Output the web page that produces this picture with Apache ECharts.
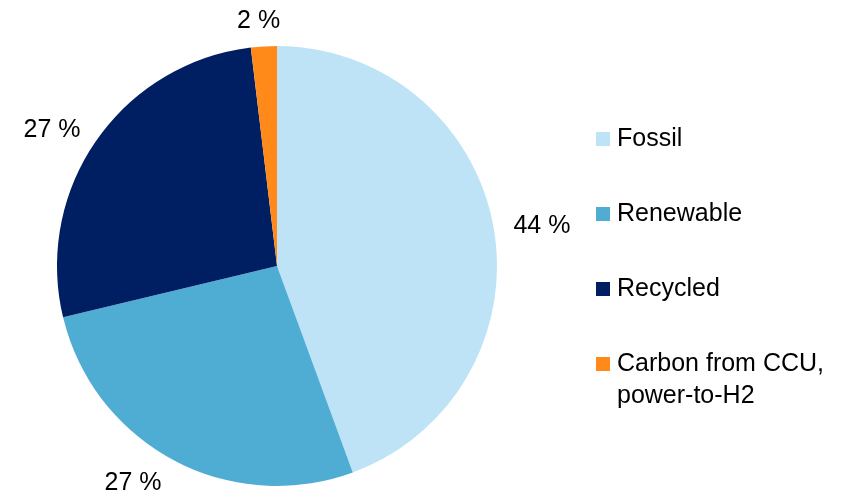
<!DOCTYPE html>
<html>
<head>
<meta charset="utf-8">
<script src="https://cdn.jsdelivr.net/npm/echarts@6/dist/echarts.min.js"></script>
<style>
  html, body { margin: 0; padding: 0; background: #ffffff; }
  #chart { width: 852px; height: 498px; }
</style>
</head>
<body>
<div id="chart"></div>
<script>
const categories = ['Fossil', 'Renewable', 'Recycled', 'Carbon from CCU, power-to-H2'];
const shares = [44.4, 26.85, 26.85, 1.9];
const legendNames = ['Fossil', 'Renewable', 'Recycled', 'Carbon from CCU,'];
const legendSecondLine = 'power-to-H2';
const colors = ['#BEE3F7', '#4FADD4', '#001E62', '#FF8A1A'];
const labelOffsets = [[0, 1], [2, 13], [2, -3], [25, -13]];

const chart = echarts.init(document.getElementById('chart'), null, { renderer: 'canvas' });
const font = 'Liberation Sans, Arial, sans-serif';

chart.setOption({
  animation: false,
  color: colors,
  legend: {
    orient: 'vertical',
    left: 596,
    top: 124,
    padding: 0,
    itemWidth: 14,
    itemHeight: 14,
    itemGap: 45,
    icon: 'rect',
    data: categories,
    formatter: function (name) { return legendNames[categories.indexOf(name)]; },
    textStyle: { fontFamily: font, fontSize: 25, color: '#000', lineHeight: 30, padding: [0, 0, 0, 2] },
    selectedMode: false
  },
  graphic: [{
    type: 'text',
    left: 617,
    top: 384,
    style: { text: legendSecondLine, font: '25px ' + font, fill: '#000' }
  }],
  series: [{
    type: 'pie',
    center: [277, 266],
    radius: [0, 220],
    startAngle: 90,
    clockwise: true,
    avoidLabelOverlap: false,
    data: categories.map((c, i) => ({ name: c, value: shares[i] })),
    label: {
      show: true,
      position: 'outside',
      formatter: function (p) { return Math.round(p.value) + ' %'; },
      fontFamily: font,
      fontSize: 25,
      color: '#000',
      distanceToLabelLine: 8
    },
    labelLine: { show: false, length: 12, length2: 0 },
    labelLayout: function (p) {
      const o = labelOffsets[p.dataIndex];
      return { dx: o[0], dy: o[1] };
    },
    emphasis: { disabled: true }
  }]
});
</script>
</body>
</html>
